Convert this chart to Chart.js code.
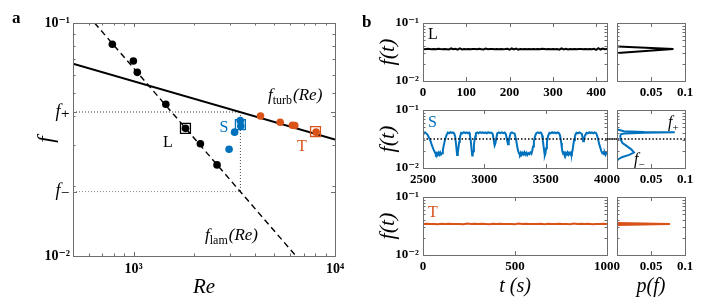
<!DOCTYPE html>
<html><head><meta charset="utf-8">
<script src="https://cdn.jsdelivr.net/npm/chart.js@4.4.1/dist/chart.umd.min.js"></script>
<style>
html,body{margin:0;padding:0;background:#fff;}
body{width:726px;height:302px;position:relative;overflow:hidden;}
canvas{position:absolute;left:0;top:0;}
</style></head><body>
<canvas id="pa" width="726" height="302"></canvas>
<canvas id="ts1" width="726" height="302"></canvas>
<canvas id="ts2" width="726" height="302"></canvas>
<canvas id="ts3" width="726" height="302"></canvas>
<canvas id="h1" width="726" height="302"></canvas>
<canvas id="h2" width="726" height="302"></canvas>
<canvas id="h3" width="726" height="302"></canvas>
<script>
// ---------- Panel a data ----------
const reLamPts = [784, 997, 1043, 1445, 1809, 2146, 2596];
const fLamPts = [0.0810, 0.0687, 0.0614, 0.0448, 0.0353, 0.0303, 0.0246];
const reSlugPts = [2978, 3173, 3386, 3405];
const fSlugPts = [0.0287, 0.0340, 0.0381, 0.0361];
const reTurbPts = [4268, 5343, 6146, 6316, 8054];
const fTurbPts = [0.0399, 0.0375, 0.0364, 0.0363, 0.0340];
const caseNames = ['L', 'S', 'T'];
const caseRe = [1809, 3390, 8000];
const caseF = [0.0353, 0.0366, 0.0342];
const lamCurveRe = [640, 6400];
const lamCurveF = [0.1, 0.01];
const turbCurveRe = [500, 10000];
const turbCurveF = [0.0668, 0.0316];
const fPlus = 0.0415, fMinus = 0.0189, reThreshold = 3390;
const aXTicks = [1000, 10000];
const aXTickLabels = ['10\u00B3', '10\u2074'];
const aYTicks = [0.01, fMinus, fPlus, 0.1];
const aYTickLabels = ['10\u207B\u00B2', 'f\u208B', 'f\u208A', '10\u207B\u00B9'];

// ---------- Panel b data ----------
const lTime = [0,5,10,15,20,25,30,35,40,45,50,55,60,65,70,75,80,85,90,95,100,105,110,115,120,125,130,135,140,145,150,155,160,165,170,175,180,185,190,195,200,205,210,215,220,225,230,235,240,245,250,255,260,265,270,275,280,285,290,295,300,305,310,315,320,325,330,335,340,345,350,355,360,365,370,375,380,385,390,395,400,405,410,415,420,425];
const lF = [0.0356,0.0353,0.0358,0.0355,0.0352,0.0357,0.0354,0.0359,0.0355,0.0353,
 0.0357,0.0354,0.0349,0.0364,0.0352,0.0358,0.0348,0.0365,0.0351,0.0356,
 0.0354,0.0357,0.0353,0.0356,0.0355,0.0352,0.0358,0.0354,0.0350,0.0362,
 0.0353,0.0357,0.0355,0.0352,0.0356,0.0354,0.0357,0.0353,0.0355,0.0358,
 0.0346,0.0366,0.0350,0.0361,0.0348,0.0356,0.0353,0.0357,0.0354,0.0355,
 0.0352,0.0357,0.0354,0.0356,0.0353,0.0358,0.0355,0.0352,0.0356,0.0354,
 0.0357,0.0353,0.0355,0.0347,0.0365,0.0351,0.0360,0.0349,0.0356,0.0354,
 0.0357,0.0353,0.0356,0.0355,0.0352,0.0357,0.0354,0.0356,0.0353,0.0358,
 0.0345,0.0367,0.0349,0.0362,0.0354,0.0356];
const sTime = [2500,2508,2516,2525,2535,2547,2560,2573,2587,2598,2605,2612,2619,2626,2633,2640,2647,2655,2662,2669,
 2680,2691,2702,2712,2722,2733,2744,2754,2762,2770,2778,2784,2789,2795,2800,2811,2822,2833,2844,2855,
 2866,2876,2882,2889,2895,2901,2905,2909,2915,2920,2926,2931,2942,2953,2964,2975,2986,2997,3008,3020,
 3031,3042,3055,3067,3076,3084,3090,3096,3105,3118,3130,3142,3155,3166,3176,3184,3193,3199,3206,3214,
 3225,3236,3247,3254,3261,3268,3276,3283,3290,3297,3304,3311,3318,3326,3334,3342,3350,3358,3366,3375,
 3384,3391,3397,3404,3411,3418,3425,3436,3447,3458,3466,3471,3477,3482,3488,3493,3498,3504,3510,3517,
 3524,3531,3542,3553,3564,3575,3586,3597,3608,3615,3621,3627,3632,3637,3643,3650,3657,3664,3671,3678,
 3685,3692,3700,3707,3714,3719,3724,3731,3738,3745,3752,3763,3774,3785,3795,3800,3806,3812,3820,3833,
 3844,3855,3866,3877,3888,3899,3910,3916,3922,3929,3937,3945,3953,3962,3970,3976,3982,3988,3994,4000];
const sF = [0.0392,0.0405,0.0412,0.0398,0.0380,0.0340,0.0296,0.0245,0.0205,0.0185,0.0172,0.0181,0.0168,0.0183,0.0170,0.0186,0.0171,0.0180,0.0205,0.0245,
 0.0310,0.0365,0.0408,0.0398,0.0415,0.0402,0.0410,0.0396,0.0350,0.0250,0.0168,0.0185,0.0225,0.0280,0.0330,0.0405,0.0396,0.0414,0.0401,0.0410,
 0.0398,0.0408,0.0370,0.0300,0.0220,0.0165,0.0172,0.0195,0.0250,0.0300,0.0350,0.0395,0.0410,0.0398,0.0415,0.0403,0.0412,0.0399,0.0410,0.0396,
 0.0414,0.0402,0.0408,0.0392,0.0310,0.0245,0.0265,0.0310,0.0395,0.0412,0.0400,0.0413,0.0398,0.0409,0.0382,0.0310,0.0258,0.0290,0.0340,0.0400,
 0.0412,0.0399,0.0392,0.0340,0.0290,0.0235,0.0195,0.0178,0.0170,0.0184,0.0169,0.0182,0.0172,0.0187,0.0170,0.0183,0.0168,0.0181,0.0174,0.0186,
 0.0176,0.0200,0.0235,0.0285,0.0335,0.0375,0.0402,0.0412,0.0399,0.0411,0.0395,0.0365,0.0300,0.0245,0.0195,0.0165,0.0178,0.0220,0.0275,0.0335,
 0.0375,0.0405,0.0396,0.0413,0.0401,0.0410,0.0397,0.0412,0.0400,0.0375,0.0330,0.0270,0.0220,0.0190,0.0175,0.0184,0.0169,0.0182,0.0171,0.0186,
 0.0170,0.0183,0.0172,0.0185,0.0178,0.0200,0.0240,0.0300,0.0350,0.0385,0.0405,0.0397,0.0412,0.0400,0.0385,0.0340,0.0290,0.0315,0.0360,0.0405,
 0.0396,0.0413,0.0401,0.0410,0.0397,0.0411,0.0402,0.0380,0.0345,0.0300,0.0255,0.0225,0.0198,0.0180,0.0186,0.0172,0.0183,0.0169,0.0181,0.0190];
const tTime = [0,20,40,60,80,100,120,140,160,180,200,220,240,260,280,300,320,340,360,380,400,420,440,460,480,500,520,540,560,580,600,620,640,660,680,700,720,740,760,780,800,820,840,860,880,900,920,940,960,980,1000];
const tF = [0.0343,0.0346,0.0341,0.0344,0.0340,0.0347,0.0342,0.0345,0.0341,0.0344,
 0.0343,0.0339,0.0348,0.0342,0.0345,0.0341,0.0346,0.0343,0.0340,0.0345,
 0.0342,0.0347,0.0341,0.0344,0.0343,0.0338,0.0348,0.0342,0.0345,0.0341,
 0.0344,0.0342,0.0346,0.0340,0.0345,0.0343,0.0341,0.0347,0.0342,0.0344,
 0.0339,0.0348,0.0341,0.0345,0.0342,0.0346,0.0340,0.0344,0.0343,0.0345,0.0342];
const sMidLine = 0.0316;
// histograms p(f): probability (x) vs f (y)
const lHistP = [0.001, 0.083, 0.001];
const lHistF = [0.0392, 0.0356, 0.0305];
const sHistP = [0.000, 0.002, 0.010, 0.040, 0.085, 0.040, 0.012, 0.006, 0.005, 0.005, 0.006, 0.008, 0.013, 0.021, 0.025, 0.018, 0.008, 0.002, 0.0005];
const sHistF = [0.0470, 0.0455, 0.0430, 0.0418, 0.0412, 0.0404, 0.0394, 0.0385, 0.0360, 0.0330, 0.0300, 0.0270, 0.0245, 0.0210, 0.0185, 0.0168, 0.0155, 0.0142, 0.0135];
const tHistP = [0.0005, 0.078, 0.0005];
const tHistF = [0.0356, 0.0343, 0.0330];
const ts1Ticks = [0, 100, 200, 300, 400];
const ts2Ticks = [2500, 3000, 3500, 4000];
const ts3Ticks = [0, 500, 1000];
const histTicks = [0.05, 0.1];
const histTickLabels = ['0.05', '0.1'];
const logTicks = [0.01, 0.1];
const logTickLabels = ['10\u207B\u00B2', '10\u207B\u00B9'];
const logMinor = [0.02, 0.03, 0.04, 0.05, 0.06, 0.07, 0.08, 0.09];

// ---------- helpers ----------
const SERIF = "'Liberation Serif', 'Times New Roman', 'DejaVu Serif', serif";
const BLUE = '#0072BD', ORANGE = '#D95319', FRAME = '#6e6e6e';
Chart.defaults.font.family = SERIF;
const pts = (xs, ys) => xs.map((v, i) => ({x: v, y: ys[i]}));

function framePlugin(fr) {
  return { id: 'frame', afterDatasetsDraw(chart) {
    const {ctx, chartArea: a, scales} = chart;
    const x = scales.x, y = scales.y;
    ctx.save();
    ctx.strokeStyle = FRAME; ctx.lineWidth = 1;
    ctx.beginPath();
    const seg = (vals, len, horiz) => vals.forEach(v => {
      if (horiz) { const p = Math.round(x.getPixelForValue(v)) + 0.5;
        ctx.moveTo(p, a.bottom); ctx.lineTo(p, a.bottom - len); ctx.moveTo(p, a.top); ctx.lineTo(p, a.top + len); }
      else { const p = Math.round(y.getPixelForValue(v)) + 0.5;
        ctx.moveTo(a.left, p); ctx.lineTo(a.left + len, p); ctx.moveTo(a.right, p); ctx.lineTo(a.right - len, p); }
    });
    seg(fr.xMajor || [], 4, true); seg(fr.xMinor || [], 2.5, true);
    seg(fr.yMajor || [], 4, false); seg(fr.yMinor || [], 2.5, false);
    ctx.stroke();
    ctx.strokeRect(Math.round(a.left) + 0.5, Math.round(a.top) + 0.5, Math.round(a.right - a.left), Math.round(a.bottom - a.top));
    ctx.restore();
  }};
}
function drawRich(ctx, it) {
  ctx.save();
  ctx.fillStyle = it.color || '#000';
  ctx.textBaseline = 'alphabetic'; ctx.textAlign = 'left';
  const parts = it.parts.map(p => Object.assign({}, p, {font: (p.style || 'normal') + ' ' + (p.weight || 'normal') + ' ' + p.size + 'px ' + SERIF}));
  let w = 0;
  parts.forEach(p => { ctx.font = p.font; p.w = ctx.measureText(p.t).width; w += p.w + (p.gap || 0); });
  let x = it.x - (it.align === 'center' ? w / 2 : 0);
  parts.forEach(p => { ctx.font = p.font; ctx.fillText(p.t, x, it.y + (p.dy || 0)); x += p.w + (p.gap || 0); });
  ctx.restore();
}
function notesPlugin(items) {
  return { id: 'notes', afterDraw(chart) { items.forEach(it => drawRich(chart.ctx, it)); } };
}
function axis(o) {
  const ticks = o.ticks || [];
  return {
    type: o.type, min: o.min, max: o.max, position: o.position,
    grid: {display: false, drawTicks: false}, border: {display: false},
    afterFit: (s) => { if (o.position === 'left') s.width = o.size; else s.height = o.size; },
    afterBuildTicks: (s) => { s.ticks = ticks.map(v => ({value: v})); },
    ticks: { display: !!o.labels, autoSkip: false, maxRotation: 0, minRotation: 0, padding: o.pad, color: '#000',
      font: o.font || {family: SERIF, size: 13, weight: 'bold'},
      callback: (v) => { const i = ticks.indexOf(v); return (o.labels && i >= 0) ? o.labels[i] : ''; } },
    title: o.title ? {display: true, text: o.title, color: '#000',
      font: {family: SERIF, size: o.titleSize, style: 'italic', weight: 'normal'}, padding: o.titlePad} : {display: false}
  };
}
function makeChart(id, pad, datasets, xAx, yAx, frame, notes) {
  return new Chart(document.getElementById(id), {
    type: 'scatter',
    data: {datasets},
    options: {
      responsive: false, animation: false, devicePixelRatio: 1,
      layout: {padding: pad},
      plugins: {legend: {display: false}, tooltip: {enabled: false}},
      scales: {x: axis(Object.assign({position: 'bottom'}, xAx)), y: axis(Object.assign({position: 'left'}, yAx))}
    },
    plugins: [framePlugin(frame), notesPlugin(notes || [])]
  });
}
const lineDs = (xs, ys, color, width, extra) => Object.assign({data: pts(xs, ys), showLine: true, pointRadius: 0,
  borderColor: color, borderWidth: width, tension: 0, fill: false}, extra || {});
const dotDs = (xs, ys, color) => ({data: pts(xs, ys), showLine: false, pointStyle: 'circle', pointRadius: 3.8,
  pointBackgroundColor: color, pointBorderColor: color, pointBorderWidth: 0, backgroundColor: color, borderColor: color});
const squareDs = (i, color) => ({data: pts([caseRe[i]], [caseF[i]]), showLine: false, pointStyle: 'rect', pointRadius: 7,
  pointBackgroundColor: 'rgba(0,0,0,0)', pointBorderColor: color, pointBorderWidth: 1.3, backgroundColor: 'rgba(0,0,0,0)', borderColor: color});

// ---------- Panel a ----------
const aYFont = (c) => (c.tick && (c.tick.value === fPlus || c.tick.value === fMinus))
  ? {family: SERIF, size: 18, style: 'italic', weight: 'normal'} : {family: SERIF, size: 14, weight: 'bold'};
makeChart('pa', {left: 28, right: 391, top: 23, bottom: 2}, [
    squareDs(0, '#000'), squareDs(1, BLUE), squareDs(2, ORANGE),
    dotDs(reLamPts, fLamPts, '#000'), dotDs(reSlugPts, fSlugPts, BLUE), dotDs(reTurbPts, fTurbPts, ORANGE),
    lineDs(turbCurveRe, turbCurveF, '#000', 2),
    lineDs(lamCurveRe, lamCurveF, '#000', 1.4, {borderDash: [6, 4]}),
    lineDs([500, reThreshold], [fPlus, fPlus], '#333', 1, {borderDash: [1, 2]}),
    lineDs([reThreshold, reThreshold], [fPlus, fMinus], '#444', 1, {borderDash: [1, 2]}),
    lineDs([500, reThreshold], [fMinus, fMinus], '#888', 1, {borderDash: [1, 2]})
  ],
  {type: 'logarithmic', min: 500, max: 10000, ticks: aXTicks, labels: aXTickLabels, size: 44, pad: 5,
   font: {family: SERIF, size: 14, weight: 'bold'}, title: 'Re', titleSize: 21, titlePad: {top: 0, bottom: 0}},
  {type: 'logarithmic', min: 0.01, max: 0.1, ticks: aYTicks, labels: aYTickLabels, size: 45, pad: 3,
   font: aYFont, title: 'f', titleSize: 23, titlePad: {top: 5, bottom: 0}},
  {xMajor: aXTicks, xMinor: [600, 700, 800, 900, 2000, 3000, 4000, 5000, 6000, 7000, 8000, 9000],
   yMajor: aYTicks, yMinor: logMinor},
  [
    {x: 12, y: 23, parts: [{t: 'a', size: 17, weight: 'bold'}]},
    {x: 168, y: 147, align: 'center', parts: [{t: caseNames[0], size: 16}]},
    {x: 224, y: 132, align: 'center', color: BLUE, parts: [{t: caseNames[1], size: 16}]},
    {x: 302, y: 151, align: 'center', color: ORANGE, parts: [{t: caseNames[2], size: 16}]},
    {x: 268, y: 100, parts: [{t: 'f', size: 17, style: 'italic'}, {t: 'turb', size: 12, dy: 4, gap: 1}, {t: '(Re)', size: 17, style: 'italic'}]},
    {x: 205, y: 240, parts: [{t: 'f', size: 17, style: 'italic'}, {t: 'lam', size: 12, dy: 4, gap: 1}, {t: '(Re)', size: 17, style: 'italic'}]}
  ]);

// ---------- Panel b ----------
const rows = [{top: 23, bottom: 81}, {top: 110, bottom: 168}, {top: 197, bottom: 255}];
const series = [
  {id: 'ts1', hid: 'h1', t: lTime, f: lF, hp: lHistP, hf: lHistF, color: '#000', min: 0, max: 425, ticks: ts1Ticks, name: caseNames[0]},
  {id: 'ts2', hid: 'h2', t: sTime, f: sF, hp: sHistP, hf: sHistF, color: BLUE, min: 2500, max: 4000, ticks: ts2Ticks, name: caseNames[1]},
  {id: 'ts3', hid: 'h3', t: tTime, f: tF, hp: tHistP, hf: tHistF, color: ORANGE, min: 0, max: 1000, ticks: ts3Ticks, name: caseNames[2]}
];
series.forEach((s, i) => {
  const r = rows[i];
  const last = i === 2;
  const hx = last ? 47 : 20;
  const pb = 302 - r.bottom - hx;
  const tsData = [lineDs(s.t, s.f, s.color, 2)];
  const hData = [lineDs(s.hp, s.hf, s.color, 2)];
  if (i === 1) {
    tsData.unshift(lineDs([2500, 4100], [sMidLine, sMidLine], '#000', 1.5, {borderDash: [1.5, 2], clip: false}));
    hData.unshift(lineDs([-0.015, 0.1], [sMidLine, sMidLine], '#000', 1.5, {borderDash: [1.5, 2], clip: false}));
  }
  const notes = [{x: 428, y: r.top + (i === 0 ? 16 : (i === 1 ? 17 : 20)), color: s.color, parts: [{t: s.name, size: 16}]}];
  if (i === 0) notes.push({x: 362, y: 27, parts: [{t: 'b', size: 17, weight: 'bold'}]});
  makeChart(s.id, {left: 373, right: 119, top: r.top, bottom: pb}, tsData,
    {type: 'linear', min: s.min, max: s.max, ticks: s.ticks, labels: s.ticks.map(String), size: hx, pad: 4,
     title: last ? 't (s)' : null, titleSize: 20, titlePad: {top: 0, bottom: 3}},
    {type: 'logarithmic', min: 0.01, max: 0.1, ticks: logTicks, labels: logTickLabels, size: 50, pad: 4,
     title: 'f(t)', titleSize: 22, titlePad: {top: 2, bottom: 0}},
    {xMajor: s.ticks, yMajor: logTicks, yMinor: logMinor}, notes);
  const hNotes = i === 1 ? [
    {x: 668, y: 127, parts: [{t: 'f', size: 16, style: 'italic'}, {t: '+', size: 11, dy: 4}]},
    {x: 634, y: 164, parts: [{t: 'f', size: 16, style: 'italic'}, {t: '\u2212', size: 11, dy: 4}]}] : [];
  makeChart(s.hid, {left: 617, right: 41, top: r.top, bottom: pb}, hData,
    {type: 'linear', min: 0, max: 0.1, ticks: histTicks, labels: histTickLabels, size: hx, pad: 4,
     title: last ? 'p(f)' : null, titleSize: 20, titlePad: {top: 0, bottom: 3}},
    {type: 'logarithmic', min: 0.01, max: 0.1, ticks: [], labels: null, size: 0, pad: 0},
    {xMajor: [0, 0.05, 0.1], yMajor: logTicks, yMinor: logMinor}, hNotes);
});
</script></body></html>
